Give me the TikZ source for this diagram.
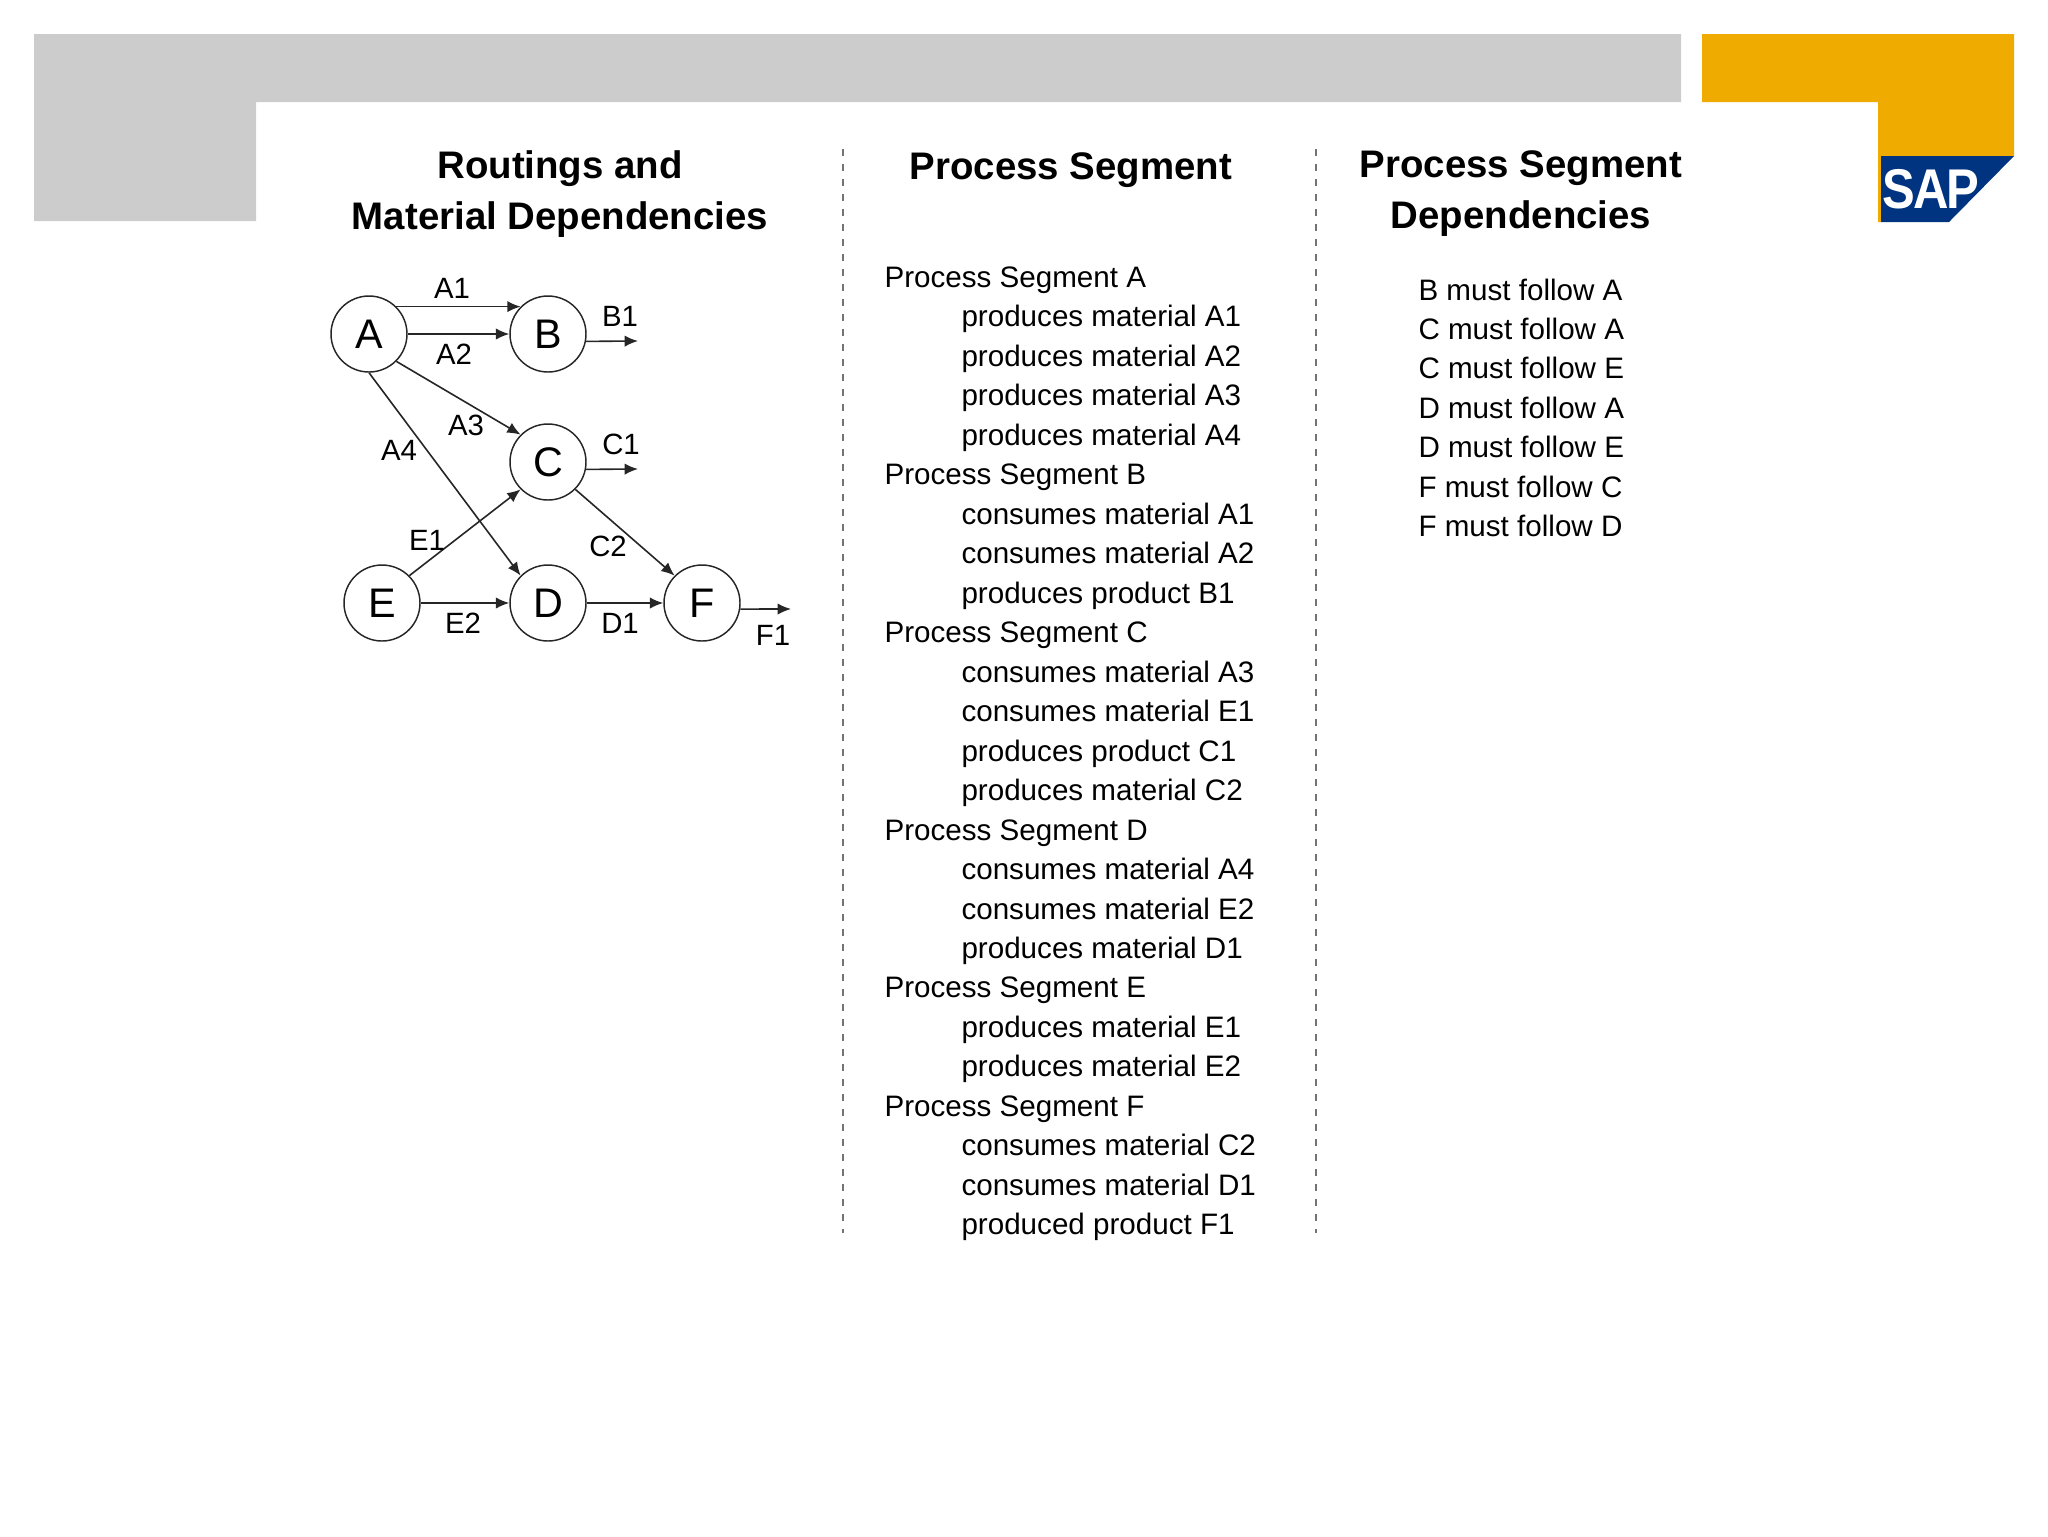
\documentclass[tikz,border=0pt]{standalone}
\usepackage{fontspec}
\setmainfont{Liberation Sans}
\tikzset{every picture/.style={line width=0.75pt}}
\tikzset{
  state/.style={draw,circle,minimum size=57pt,inner sep=0pt,font=\fontsize{31}{31}\selectfont,line width=1.1pt,color=black!85,text=black},
  flow/.style={-{Latex[length=10pt,width=8.5pt]},line width=1.2pt,color=black!85},
  flowlabel/.style={inner sep=0pt,font=\fontsize{22}{22}\selectfont},
  heading/.style={inner sep=0pt,align=center,font=\fontsize{28.8}{38.25}\selectfont\bfseries},
  bodyline/.style={anchor=base west,inner sep=0pt,font=\fontsize{22.2}{22.2}\selectfont},
  divider/.style={dash pattern={on 5.25pt off 6pt},line width=2.2pt,color=black!55},
}
\usetikzlibrary{arrows.meta}
\definecolor{sapgrey}{RGB}{204,204,204}
\definecolor{saporange}{RGB}{240,171,0}
\definecolor{sapblue}{RGB}{0,51,128}
\begin{document}
\begin{tikzpicture}[x=0.75pt,y=0.75pt,yscale=-1,xscale=1]
\useasboundingbox (0,0) rectangle (2048,1536);
% header bands
\fill [sapgrey] (34,34) -- (1681,34) -- (1681,102) -- (256,102) -- (256,221) -- (34,221) -- cycle;
\fill [saporange] (1702,34) -- (2014,34) -- (2014,156) -- (1881,156) -- (1881,222) -- (1878,222) -- (1878,102) -- (1702,102) -- cycle;
\fill [sapblue] (1881,156) -- (2014,156) -- (1949,222) -- (1881,222) -- cycle;
\node (logo) [inner sep=0pt,text=white,font=\fontsize{40}{40}\selectfont\bfseries] at (1931,189) {\scalebox{0.92}[1.05]{S\kern-1.5pt A\kern-1.5pt P}};
% dividers
\coordinate (d1a) at (843,149);
\coordinate (d1b) at (843,1233);
\coordinate (d2a) at (1316,149);
\coordinate (d2b) at (1316,1233);
\draw [divider] (d1a) -- (d1b);
\draw [divider] (d2a) -- (d2b);
% headings
\node (h1) [heading] at (560,194) {Routings and\\Material Dependencies};
\node (h2) [heading,anchor=north] at (1071,152) {Process Segment};
\node (h3) [heading] at (1521,194) {Process Segment\\Dependencies};
% states
\node (A) [state] at (369,334) {A};
\node (B) [state] at (548,334) {B};
\node (C) [state] at (548,462) {C};
\node (E) [state] at (382,603) {E};
\node (D) [state] at (548,603) {D};
\node (F) [state] at (702,603) {F};
\coordinate (b1) at (638,341);
\coordinate (c1) at (638,469);
\coordinate (f1) at (791,609);
% flows
\draw [flow] (A.45) -- (B.135);
\draw [flow] (A) -- (B);
\draw [flow] (A.-45) -- (C.135);
\draw [flow] (A.270) -- (D.135);
\draw [flow] (E.45) -- (C.225);
\draw [flow] (E) -- (D);
\draw [flow] (C.-45) -- (F.135);
\draw [flow] (D) -- (F);
\draw [flow] (B.-11) -- (b1);
\draw [flow] (C.-11) -- (c1);
\draw [flow] (F.-9) -- (f1);
% flow labels
\node (la1) [flowlabel] at (452,288) {A1};
\node (la2) [flowlabel] at (454,354) {A2};
\node (la3) [flowlabel] at (466,425) {A3};
\node (la4) [flowlabel] at (399,450) {A4};
\node (lb1) [flowlabel] at (620,316) {B1};
\node (lc1) [flowlabel] at (621,444) {C1};
\node (lc2) [flowlabel] at (608,546) {C2};
\node (le1) [flowlabel] at (427,540) {E1};
\node (le2) [flowlabel] at (463,623) {E2};
\node (ld1) [flowlabel] at (620,623) {D1};
\node (lf1) [flowlabel] at (773,635) {F1};
% process segment list
\foreach \i/\x/\t in {0/884/Process Segment A,1/961/produces material A1,2/961/produces material A2,3/961/produces material A3,4/961/produces material A4,
  5/884/Process Segment B,6/961/consumes material A1,7/961/consumes material A2,8/961/produces product B1,
  9/884/Process Segment C,10/961/consumes material A3,11/961/consumes material E1,12/961/produces product C1,13/961/produces material C2,
  14/884/Process Segment D,15/961/consumes material A4,16/961/consumes material E2,17/961/produces material D1,
  18/884/Process Segment E,19/961/produces material E1,20/961/produces material E2,
  21/884/Process Segment F,22/961/consumes material C2,23/961/consumes material D1,24/961/produced product F1}
  \node (seg\i) [bodyline] at (\x,{287.5+39.47*\i}) {\t};
% dependency list
\foreach \i/\t in {0/B must follow A,1/C must follow A,2/C must follow E,3/D must follow A,4/D must follow E,5/F must follow C,6/F must follow D}
  \node (dep\i) [bodyline] at (1418,{300+39.47*\i}) {\t};
\end{tikzpicture}
\end{document}
